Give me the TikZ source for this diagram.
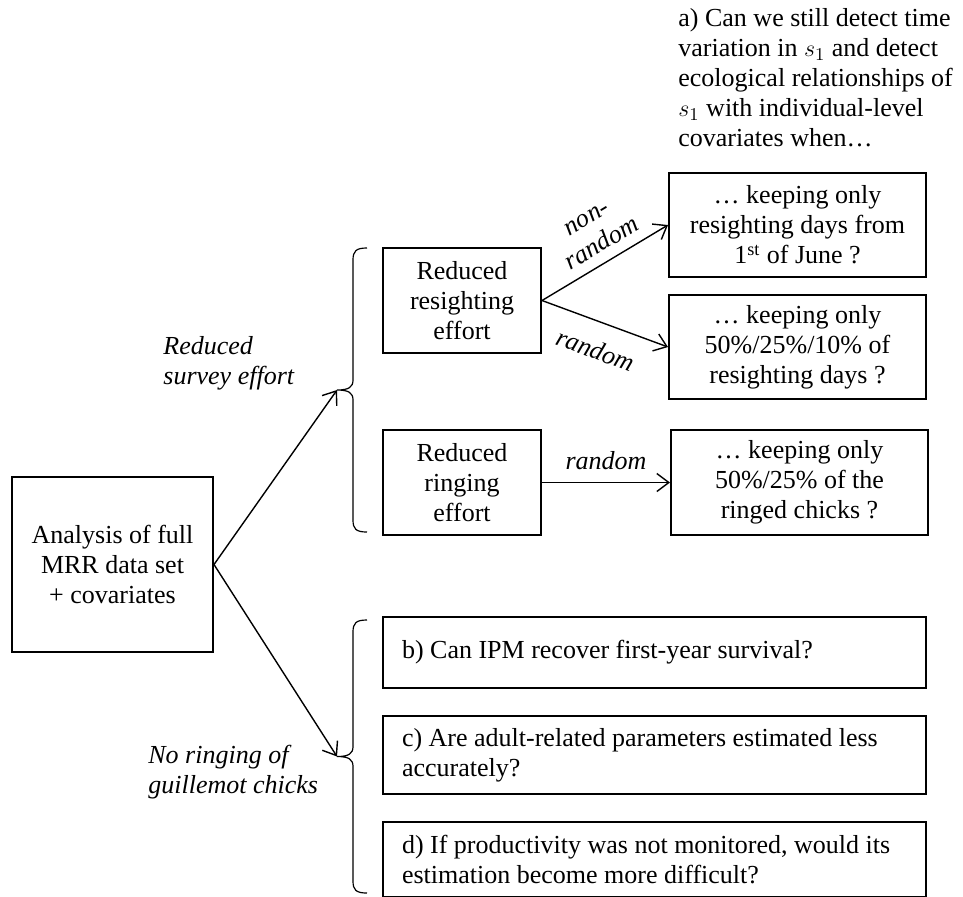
\documentclass[tikz,border=0pt]{standalone}
\usepackage{fontspec}
\setmainfont{Liberation Serif}
\usetikzlibrary{arrows.meta, positioning}

% left brace as drawn by hand: top y, tip y, bottom y
\newcommand{\wbrace}[3]{%
  \draw[brc] (367,#1) .. controls (356,#1) and (353,#1+3) .. (353,#1+12)
    -- (353,#2-10) .. controls (353,#2-3) and (349,#2) .. (337,#2)
    .. controls (349,#2) and (353,#2+3) .. (353,#2+10)
    -- (353,#3-12) .. controls (353,#3-3) and (356,#3) .. (367,#3);}

\begin{document}
\begin{tikzpicture}[
    x=0.5pt, y=-0.5pt,
    font=\fontsize{13}{15}\selectfont,
    box/.style={rectangle, draw=black, line width=1pt, align=center, inner sep=2pt},
    qbox/.style={rectangle, draw=black, line width=1pt, align=flush left, text width=252.5pt, inner xsep=9.5pt, minimum width=271.5pt},
    arr/.style={-{Straight Barb[length=6pt, width=9pt]}, line width=0.7pt},
    brc/.style={line width=0.6pt},
    lbl/.style={font=\fontsize{13}{15}\selectfont\itshape, align=left, inner sep=0pt}
]
\useasboundingbox (0,0) rectangle (963,896);

\node[box, minimum width=100.5pt, minimum height=87.5pt] (full) at (112.5,564.5) {Analysis of full\\MRR data set\\+ covariates};

\node[box, minimum width=79pt, minimum height=52.5pt] (resight) at (462,300.5) {Reduced\\resighting\\effort};
\node[box, minimum width=79pt, minimum height=52.5pt, below=37.5pt of resight] (ringing) {Reduced\\ringing\\effort};

\node[box, minimum width=128.5pt, minimum height=52pt] (june) at (797.5,225) {… keeping only\\resighting days from\\1\textsuperscript{st} of June ?};
\node[box, minimum width=128.5pt, minimum height=52pt, below=8pt of june] (rsdays) {… keeping only\\50\%/25\%/10\% of\\resighting days ?};
\node[box, minimum width=128.5pt, minimum height=52.5pt, right=64pt of ringing] (chicks) {… keeping only\\50\%/25\% of the\\ringed chicks ?};

\node[anchor=west, align=left, inner sep=0pt] (question) at (678,78) {a) Can we still detect time\\variation in $s_1$ and detect\\ecological relationships of\\$s_1$ with individual-level\\covariates when…};

\node[qbox, minimum height=35.5pt] (ipm) at (654.5,652.5) {b) Can IPM recover first-year survival?};
\node[qbox, minimum height=39pt, below=13pt of ipm] (adult) {c) Are adult-related parameters estimated less\\accurately?};
\node[qbox, minimum height=37.5pt, below=13pt of adult] (prod) {d) If productivity was not monitored, would its\\estimation become more difficult?};

% braces
\wbrace{248}{390}{532}
\wbrace{620}{756.5}{893}
\coordinate (survey) at (337,390);
\coordinate (noring) at (337,756.5);

\node[lbl, anchor=west] (surveylbl) at (163,363) {Reduced\\survey effort};
\node[lbl, anchor=west] (noringlbl) at (148,772) {No ringing of\\guillemot chicks};

\draw[arr] (full.east) -- (survey);
\draw[arr] (full.east) -- (noring);

\draw[arr] (resight.east) -- node[lbl, align=center, sloped, above=5pt, pos=0.55] {non-\\random} (june.west);
\draw[arr] (resight.east) -- node[lbl, sloped, below=9pt, pos=0.5] {random} (rsdays.west);
\draw[arr] (ringing) -- node[lbl, above=6pt] {random} (chicks);

\end{tikzpicture}
\end{document}
